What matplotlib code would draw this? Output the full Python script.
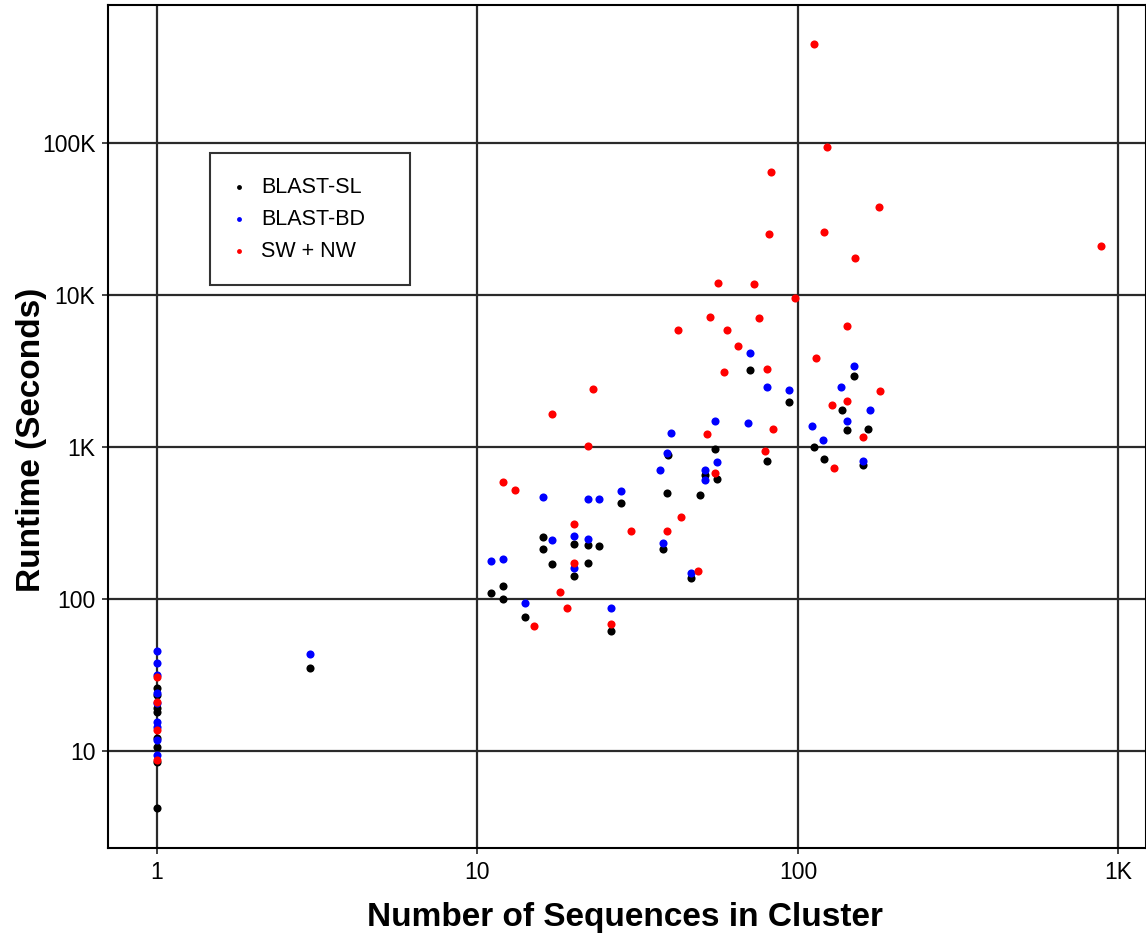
import matplotlib
matplotlib.use("Agg")
import matplotlib.pyplot as plt
from matplotlib.ticker import FixedLocator, FixedFormatter, NullLocator

plt.rcParams['font.family'] = ['Liberation Sans', 'DejaVu Sans']

# BLAST-SL (black)
sl_x = [1, 1, 1, 1, 1, 1, 1, 1, 3,
        11.0, 12.0, 12.0, 14.1, 16.0, 16.0, 17.1, 20.0, 20.0, 22.1, 22.1, 23.9,
        26.1, 28.0, 37.9, 39.0, 39.3, 46.4, 49.5, 51.3, 55.9, 55.1, 70.8, 80.0,
        93.7, 112, 120.5, 137, 142, 150, 160, 165]
sl_y = [26, 23.4, 19.2, 18.1, 12.2, 10.6, 8.5, 4.2, 35.2,
        109, 122, 100, 76, 256, 213, 170, 230, 142, 227, 172, 223,
        61.6, 428, 213, 498, 886, 137, 483, 654, 616, 970, 3210, 809,
        1977, 1000, 834, 1752, 1294, 2931, 762, 1313]

# BLAST-BD (blue)
bd_x = [1, 1, 1, 1, 1, 1, 1, 1, 1, 3,
        11.0, 12.0, 14.1, 16.0, 17.1, 20.0, 20.0, 22.1, 22.1, 23.9, 26.1, 28.0,
        37.1, 37.9, 39.0, 40.2, 46.4, 51.3, 51.3, 55.1, 55.9, 69.8, 70.8, 80.0,
        93.7, 111, 120, 136, 142, 150, 160, 168]
bd_y = [45.5, 37.9, 31.6, 24.1, 20.7, 15.5, 14.4, 11.8, 9.4, 43.5,
        178, 183, 94, 469, 244, 260, 160, 455, 248, 455, 87.3, 514,
        706, 234, 913, 1236, 148, 706, 607, 1480, 797, 1438, 4150, 2483,
        2371, 1374, 1112, 2483, 1480, 3412, 809, 1752]

# SW + NW (red)
sw_x = [1, 1, 1, 1,
        12.0, 13.1, 15.0, 17.1, 18.1, 22.9, 19.0, 20.0, 20.0, 22.1, 26.1, 30.1,
        39.0, 42.2, 43.1, 48.7, 52.0, 53.1, 55.1, 56.2, 58.7, 60.0, 65.0, 72.9,
        75.5, 78.9, 80.0, 81.2, 82.4, 83.6, 97.9, 112, 114, 121, 123, 128, 130,
        142, 142, 151, 160, 179, 180, 882]
sw_y = [30.7, 21, 13.7, 8.7,
        589, 521, 66.4, 1648, 111, 2410, 87.3, 311, 172, 1016, 68.5, 280,
        280, 5888, 346, 153, 1218, 7168, 674, 11990, 3115, 5888, 4617, 11810,
        7060, 942, 3259, 25190, 64400, 1313, 9550, 448000, 3853, 25960, 94200, 1890, 728,
        6250, 2008, 17500, 1164, 37900, 2335, 20990]

series = [
    ('BLAST-SL', sl_x, sl_y, 'black'),
    ('BLAST-BD', bd_x, bd_y, '#0000ff'),
    ('SW + NW', sw_x, sw_y, '#ff0000'),
]

fig = plt.figure(figsize=(11.46, 9.39), dpi=100)
ax = fig.add_axes([0.0942, 0.0969, 0.9058, 0.8978])

for label, xs, ys, color in series:
    ax.scatter(xs, ys, s=34, c=color, marker='o', linewidths=0, label=label, zorder=3)

ax.set_xscale('log')
ax.set_yscale('log')
ax.set_xlim(0.703, 1219)
ax.set_ylim(2.30, 809000)

ax.xaxis.set_major_locator(FixedLocator([1, 10, 100, 1000]))
ax.xaxis.set_major_formatter(FixedFormatter(['1', '10', '100', '1K']))
ax.xaxis.set_minor_locator(NullLocator())
ax.yaxis.set_major_locator(FixedLocator([10, 100, 1000, 10000, 100000]))
ax.yaxis.set_major_formatter(FixedFormatter(['10', '100', '1K', '10K', '100K']))
ax.yaxis.set_minor_locator(NullLocator())

ax.grid(True, color='#2a2a2a', linewidth=1.6, zorder=0)
ax.set_axisbelow(True)
ax.tick_params(axis='both', length=4, width=1.2, color='#222222', labelsize=16.5, pad=5)

for sp in ax.spines.values():
    sp.set_linewidth(1.5)
    sp.set_color('black')

ax.set_xlabel('Number of Sequences in Cluster', fontsize=24, fontweight='bold')
ax.set_ylabel('Runtime (Seconds)', fontsize=24, fontweight='bold')
ax.xaxis.set_label_coords(0.498, -0.064)
ax.yaxis.set_label_coords(-0.059, 0.484)

# legend box: left ~210px, top ~153px, width ~200px
leg = ax.legend(loc='upper left', bbox_to_anchor=(0.098, 0.664, 0.1927, 0.160),
                mode='expand', borderaxespad=0,
                fancybox=False, frameon=True, edgecolor='black', fontsize=15.5,
                markerscale=0.6, handletextpad=0.8, handlelength=0.5,
                borderpad=1.1, labelspacing=0.5)
leg.get_frame().set_linewidth(1.5)

fig.savefig('out.png', dpi=100)
